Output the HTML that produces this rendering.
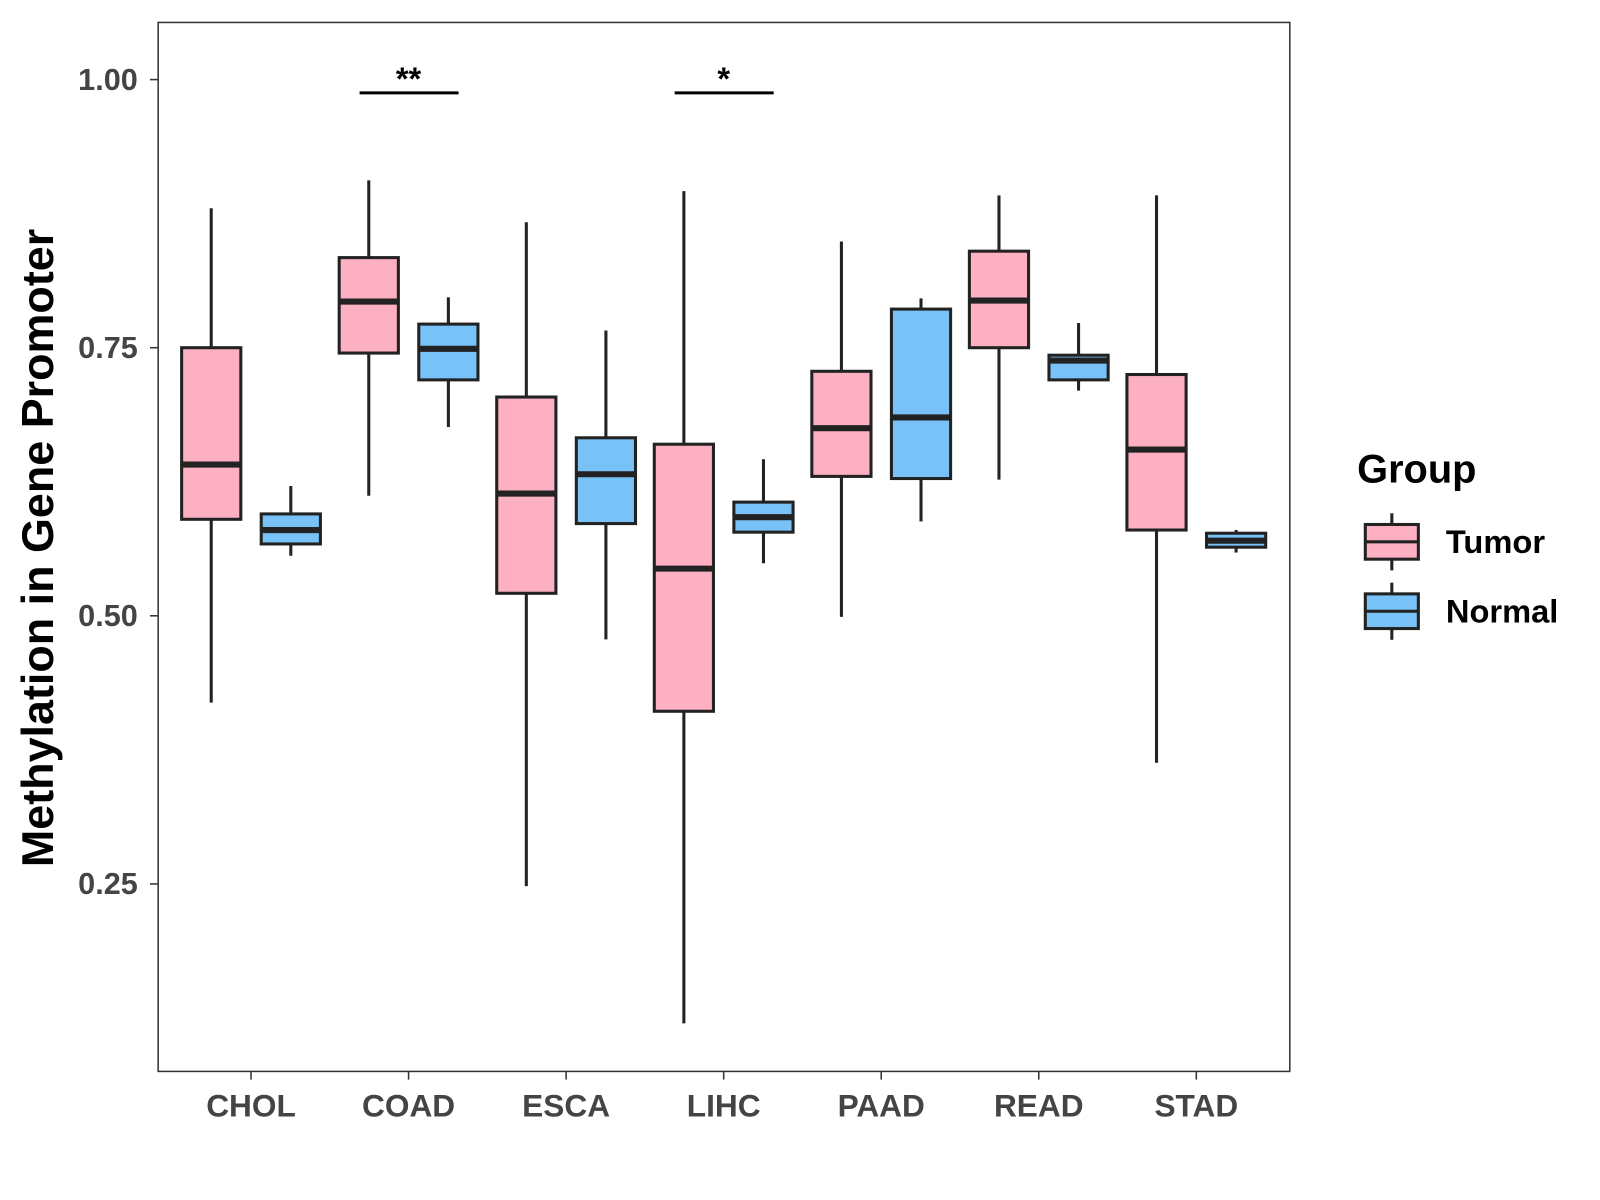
<!DOCTYPE html>
<html><head><meta charset="utf-8">
<style>
html,body{margin:0;padding:0;background:#fff;}
svg{display:block;font-family:"Liberation Sans",Arial,sans-serif;}
</style></head>
<body>
<svg id="chart" width="1600" height="1200" viewBox="0 0 1600 1200" xmlns="http://www.w3.org/2000/svg"><g id="root" transform="scale(1.0204)"></g></svg>
<script>
const categories = ["CHOL","COAD","ESCA","LIHC","PAAD","READ","STAD"];
// [low, q1, median, q3, high]
const tumorStats = [
  [0.419,0.590,0.641,0.750,0.880],
  [0.612,0.745,0.793,0.834,0.906],
  [0.248,0.521,0.614,0.704,0.867],
  [0.120,0.411,0.544,0.660,0.896],
  [0.499,0.630,0.675,0.728,0.849],
  [0.627,0.750,0.794,0.840,0.892],
  [0.363,0.580,0.655,0.725,0.892]
];
const normalStats = [
  [0.556,0.567,0.580,0.595,0.621],
  [0.676,0.720,0.749,0.772,0.797],
  [0.478,0.586,0.632,0.666,0.766],
  [0.549,0.578,0.592,0.606,0.646],
  [0.588,0.628,0.685,0.786,0.796],
  [0.710,0.720,0.738,0.743,0.773],
  [0.559,0.564,0.570,0.577,0.580]
];
const yTicks = [0.25,0.50,0.75,1.00];
const yTickLabels = ["0.25","0.50","0.75","1.00"];
const sigCategories = ["COAD","LIHC"];
const sigLabels = ["**","*"];

const svg = document.getElementById('root');
const NS = 'http://www.w3.org/2000/svg';
const P = {l:155,r:1264,t:22,b:1050};
function y(v){ return 78 + (1 - v) * 1051; }
function x(i){ return 246 + i * 154.4; }
function mk(tag, attrs, parent){
  const e = document.createElementNS(NS, tag);
  for (const k in attrs) e.setAttribute(k, attrs[k]);
  (parent||svg).appendChild(e);
  return e;
}
const panel = mk('rect',{x:P.l,y:P.t,width:P.r-P.l,height:P.b-P.t,fill:'#fff',stroke:'#333','stroke-width':1.5});



yTicks.forEach((v,i)=>{
  const t = mk('line',{x1:P.l-8,x2:P.l,y1:y(v),y2:y(v),stroke:'#333','stroke-width':1.5});
  
  
  const l = mk('text',{x:P.l-20,y:y(v)+10,'text-anchor':'end','font-size':30,'font-weight':'bold',fill:'#444'});
  l.textContent = yTickLabels[i];
  
  
});
categories.forEach((c,i)=>{
  const t = mk('line',{x1:x(i),x2:x(i),y1:P.b,y2:P.b+8,stroke:'#333','stroke-width':1.5});
  
  
  const l = mk('text',{x:x(i),y:1094,'text-anchor':'middle','font-size':31,'font-weight':'bold',fill:'#444'});
  l.textContent = c;
  
  
});
const yt = mk('text',{x:0,y:0,transform:'translate(52,537) rotate(-90)','text-anchor':'middle','font-size':44,'font-weight':'bold',fill:'#000'});
yt.textContent = 'Methylation in Gene Promoter';



function box(cx, s, fill, name){
  const g = mk('g',{});
  
  
  const hw = 29;
  mk('line',{x1:cx,x2:cx,y1:y(s[4]),y2:y(s[3]),stroke:'#222','stroke-width':3},g);
  mk('line',{x1:cx,x2:cx,y1:y(s[1]),y2:y(s[0]),stroke:'#222','stroke-width':3},g);
  mk('rect',{x:cx-hw,y:y(s[3]),width:hw*2,height:Math.max(1,y(s[1])-y(s[3])),fill:fill,stroke:'#222','stroke-width':3},g);
  mk('line',{x1:cx-hw,x2:cx+hw,y1:y(s[2]),y2:y(s[2]),stroke:'#222','stroke-width':6},g);
}
categories.forEach((c,i)=>{
  box(x(i)-39, tumorStats[i], '#FDB0C2', 'box-tumor-'+c.toLowerCase());
  box(x(i)+39, normalStats[i], '#78C2F8', 'box-normal-'+c.toLowerCase());
});
sigCategories.forEach((c,j)=>{
  const i = categories.indexOf(c);
  const ln = mk('line',{x1:x(i)-48,x2:x(i)+49,y1:91,y2:91,stroke:'#000','stroke-width':3});
  
  
  const st = mk('text',{x:x(i),y:88,'text-anchor':'middle','font-size':32,'font-weight':'bold',fill:'#000'});
  st.textContent = sigLabels[j];
  
  
});
const lg = mk('g',{});


const lt = mk('text',{x:1330,y:473,'font-size':39,'font-weight':'bold',fill:'#000'},lg);
lt.textContent = 'Group';


[['Tumor','#FDB0C2',531],['Normal','#78C2F8',599]].forEach(([n,f,cy])=>{
  const e = mk('g',{},lg);
  
  
  mk('line',{x1:1364,x2:1364,y1:cy-28,y2:cy+28,stroke:'#222','stroke-width':3},e);
  mk('rect',{x:1338,y:cy-17,width:52,height:34,fill:f,stroke:'#222','stroke-width':3},e);
  mk('line',{x1:1338,x2:1390,y1:cy,y2:cy,stroke:'#222','stroke-width':3},e);
  const t = mk('text',{x:1417,y:cy+11,'font-size':32,'font-weight':'bold',fill:'#000'},e);
  t.textContent = n;
});
</script>
</body></html>
